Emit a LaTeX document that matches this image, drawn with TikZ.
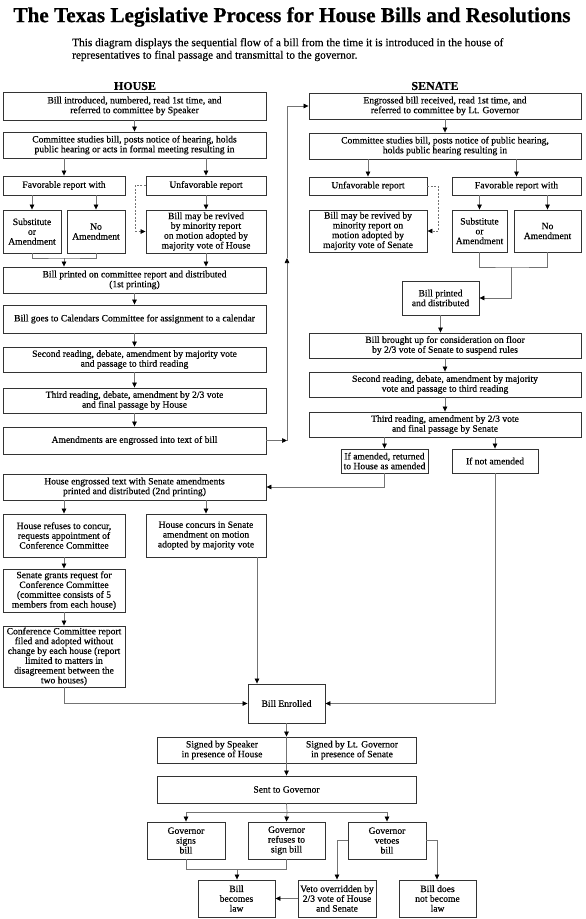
\documentclass[tikz,border=0pt]{standalone}
\usepackage{fontspec}
\setmainfont{Liberation Serif}[FakeBold=0.3]
\newfontfamily\titlefont{Liberation Serif}[FakeBold=0.6]
\usetikzlibrary{arrows.meta}
\tikzset{
  box/.style={draw=black!80, line width=0.9pt, inner sep=1pt, align=center, font=\fontsize{9.6}{9.8}\selectfont},
  lbl/.style={align=center, font=\fontsize{9.6}{9.8}\selectfont, inner sep=0pt},
  conn/.style={draw=black!55, line width=0.7pt},
  arr/.style={conn, -{Triangle[length=5pt,width=4.5pt,color=black]}},
  dconn/.style={conn, dash pattern=on 2pt off 1.5pt},
  darr/.style={arr, dash pattern=on 2pt off 1.5pt},
}
\newcommand\bx[6]{\node[box, minimum width={(#4-#2)*1pt}, minimum height={(#5-#3)*1pt}] (#1) at ({(#2+#4)/2},{(#3+#5)/2}) {#6};}
\begin{document}
\begin{tikzpicture}[x=1pt,y=-1pt]
\fill[white] (0,0) rectangle (586,919);
\useasboundingbox (0,0) rectangle (586,919);

\node[font=\titlefont\bfseries\fontsize{21.2}{22}\selectfont, inner sep=0pt] (title) at (292,17) {The Texas Legislative Process for House Bills and Resolutions};
\node[anchor=north west, align=left, font=\fontsize{11.3}{12.5}\selectfont, inner sep=0pt] (sub) at (72,38) {This diagram displays the sequential flow of a bill from the time it is introduced in the house of\\representatives to final passage and transmittal to the governor.};

\node[font=\bfseries\fontsize{12}{13}\selectfont, inner sep=0pt] (house) at (135,86) {HOUSE};
\node[font=\bfseries\fontsize{12}{13}\selectfont, inner sep=0pt] (senate) at (435,86) {SENATE};

% House column
\bx{h1}{3}{92}{266}{120}{Bill introduced, numbered, read 1st time, and\\referred to committee by Speaker}
\bx{h2}{3}{132}{266}{158}{Committee studies bill, posts notice of hearing, holds\\public hearing or acts in formal meeting resulting in}
\bx{hfav}{3}{176}{125}{195}{Favorable report with}
\bx{hunf}{146}{176}{266}{195}{Unfavorable report}
\bx{hsub}{3}{210}{61}{253}{Substitute\\or\\Amendment}
\bx{hno}{67}{210}{125}{253}{No\\Amendment}
\bx{hrev}{146}{210}{266}{253}{Bill may be revived\\by minority report\\on motion adopted by\\majority vote of House}
\bx{hprint}{3}{267}{266}{293}{Bill printed on committee report and distributed\\(1st printing)}
\bx{hcal}{3}{305}{266}{333}{Bill goes to Calendars Committee for assignment to a calendar}
\bx{hsec}{3}{347}{266}{372}{Second reading, debate, amendment by majority vote\\and passage to third reading}
\bx{hthird}{3}{388}{266}{413}{Third reading, debate, amendment by 2/3 vote\\and final passage by House}
\bx{heng}{3}{427}{266}{454}{Amendments are engrossed into text of bill}

% Senate column
\bx{s1}{309}{93}{581}{119}{Engrossed bill received, read 1st time, and\\referred to committee by Lt. Governor}
\bx{s2}{309}{133}{581}{159}{Committee studies bill, posts notice of public hearing,\\holds public hearing resulting in}
\bx{sunf}{309}{177}{427}{195}{Unfavorable report}
\bx{sfav}{452}{177}{581}{195}{Favorable report with}
\bx{srev}{309}{210}{427}{252}{Bill may be revived by\\minority report on\\motion adopted by\\majority vote of Senate}
\bx{ssub}{452}{210}{507}{252}{Substitute\\or\\Amendment}
\bx{sno}{514}{210}{581}{252}{No\\Amendment}
\bx{sprint}{402}{281}{479}{315}{Bill printed\\and distributed}
\bx{sbrought}{309}{333}{581}{358}{Bill brought up for consideration on floor\\by 2/3 vote of Senate to suspend rules}
\bx{ssec}{309}{372}{581}{397}{Second reading, debate, amendment by majority\\vote and passage to third reading}
\bx{sthird}{309}{412}{581}{437}{Third reading, amendment by 2/3 vote\\and final passage by Senate}
\bx{samend}{341}{449}{428}{473}{If amended, returned\\to House as amended}
\bx{snot}{452}{449}{538}{473}{If not amended}

% House lower part
\bx{hht}{3}{474}{266}{500}{House engrossed text with Senate amendments\\printed and distributed (2nd printing)}
\bx{hrefuse}{3}{514}{125}{557}{House refuses to concur,\\requests appointment of\\Conference Committee}
\bx{hconcur}{146}{514}{266}{557}{House concurs in Senate\\amendment on motion\\adopted by majority vote}
\bx{hgrant}{3}{569}{125}{612}{Senate grants request for\\Conference Committee\\(committee consists of 5\\members from each house)}
\bx{hconf}{3}{626}{125}{687}{Conference Committee report\\filed and adopted without\\change by each house (report\\limited to matters in\\disagreement between the\\two houses)}

% Final part
\bx{enrolled}{248}{684}{325}{723}{Bill Enrolled}
\bx{signed}{157}{737}{416}{763}{}
\node[lbl] (sgl) at (222,750) {Signed by Speaker\\in presence of House};
\node[lbl] (sgr) at (352,750) {Signed by Lt. Governor\\in presence of Senate};
\bx{sent}{157}{776}{416}{803}{Sent to Governor}
\bx{gsign}{147}{822}{225}{859}{Governor\\signs\\bill}
\bx{grefuse}{248}{822}{325}{859}{Governor\\refuses to\\sign bill}
\bx{gveto}{348}{822}{426}{859}{Governor\\vetoes\\bill}
\bx{law}{198}{880}{275}{917}{Bill\\becomes\\law}
\bx{override}{298}{880}{376}{917}{Veto overridden by\\2/3 vote of House\\and Senate}
\bx{nolaw}{399}{880}{476}{917}{Bill does\\not become\\law}

% helper coordinates
\coordinate (hdash) at (135,231.5);
\coordinate (sdash) at (438,231);
\coordinate (hj) at (64,258);
\coordinate (sj) at (511,267);
\coordinate (crossmid) at (287,258);
\coordinate (cx) at (257,0);
\coordinate (gb) at (287,812);
\coordinate (gj) at (237,869);
\coordinate (vl) at (337,0);
\coordinate (vr) at (437,0);

% House connectors
\draw[arr] (h1) -- (h2);
\draw[arr] (h2.south -| hfav.north) -- (hfav.north);
\draw[arr] (h2.south -| hunf.north) -- (hunf.north);
\draw[arr] (hfav.south -| hsub.north) -- (hsub.north);
\draw[arr] (hfav.south -| hno.north) -- (hno.north);
\draw[arr] (hunf.south) -- (hrev.north);
\draw[dconn] (hunf.west) -| (hdash);
\draw[darr] (hdash) -- (hrev.west);
\draw[conn] (hsub.south) |- (hj) -| (hno.south);
\draw[arr] (hj) -- (hj |- hprint.north);
\draw[arr] (hrev.south) -- (hrev.south |- hprint.north);
\draw[arr] (hprint) -- (hcal);
\draw[arr] (hcal) -- (hsec);
\draw[arr] (hsec) -- (hthird);
\draw[arr] (hthird) -- (heng);

% cross to Senate
\draw[arr] (heng.east) -- (heng.east -| crossmid);
\draw[arr] (heng.east -| crossmid) -- (crossmid);
\draw[arr] (crossmid) |- (s1.west);

% Senate connectors
\draw[arr] (s1) -- (s2);
\draw[arr] (s2.south -| sunf.north) -- (sunf.north);
\draw[arr] (s2.south -| sfav.north) -- (sfav.north);
\draw[arr] (sfav.south -| ssub.north) -- (ssub.north);
\draw[arr] (sfav.south -| sno.north) -- (sno.north);
\draw[dconn] (sunf.east) -| (sdash);
\draw[darr] (sdash) -- (srev.east);
\draw[conn] (ssub.south) |- (sj) -| (sno.south);
\draw[arr] (sj) |- (sprint.east);
\draw[arr] (sprint) -- (sprint |- sbrought.north);
\draw[arr] (sbrought) -- (ssec);
\draw[arr] (ssec) -- (sthird);
\draw[arr] (sthird.south -| samend.north) -- (samend.north);
\draw[arr] (sthird.south -| snot.north) -- (snot.north);
\draw[arr] (samend.south) |- (hht.east);
\draw[arr] (snot.south) |- (enrolled.east);

% House lower connectors
\draw[arr] (hht.south -| hrefuse.north) -- (hrefuse.north);
\draw[arr] (hht.south -| hconcur.north) -- (hconcur.north);
\draw[arr] (hrefuse) -- (hgrant);
\draw[arr] (hgrant) -- (hconf);
\draw[arr] (hconcur.south -| cx) -- (enrolled.north -| cx);
\draw[arr] (hconf.south) |- (enrolled.west);

% Final connectors
\draw[arr] (enrolled.south) -- (enrolled.south |- signed.north);
\draw[arr] (enrolled.south |- signed.north) -- (enrolled.south |- sent.north);
\draw[conn] (sent.south) -- (gb);
\draw[conn] (gb -| gsign.north) -- (gb -| gveto.north);
\draw[arr] (gb -| gsign.north) -- (gsign.north);
\draw[arr] (gb) -- (grefuse.north);
\draw[arr] (gb -| gveto.north) -- (gveto.north);
\draw[conn] (gsign.south) |- (gj) -| (grefuse.south);
\draw[arr] (gj) -- (gj |- law.north);
\draw[arr] (gveto.west) -| (vl |- override.north);
\draw[arr] (gveto.east) -| (vr |- nolaw.north);
\draw[arr] (override.west) -- (law.east);
\end{tikzpicture}
\end{document}
